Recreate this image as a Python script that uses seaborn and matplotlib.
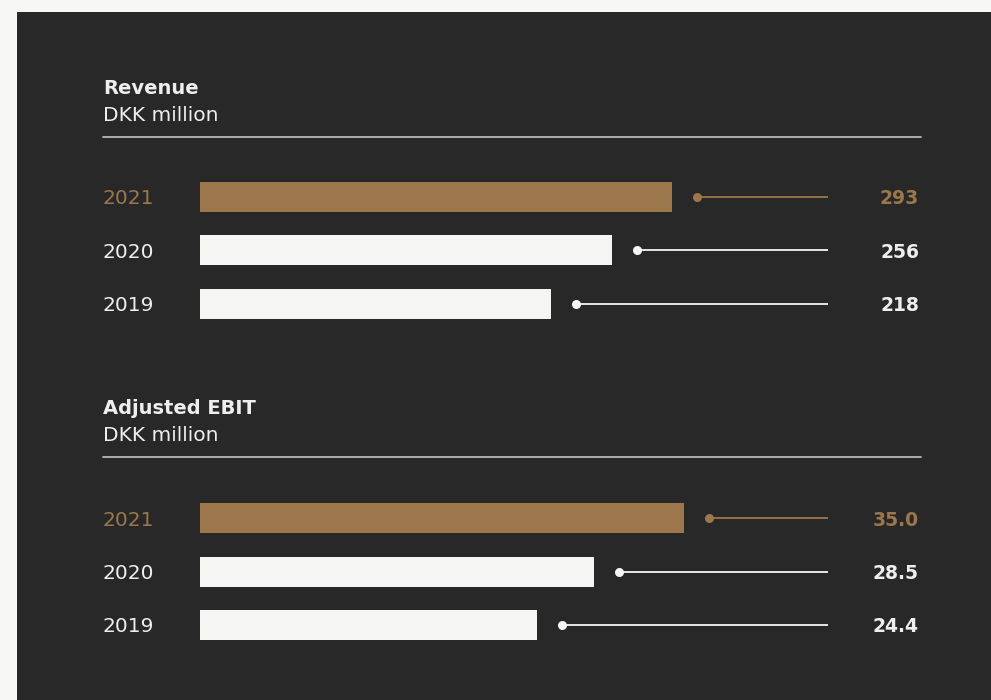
import matplotlib
matplotlib.use("Agg")
import matplotlib.pyplot as plt
import matplotlib.transforms as mtransforms
from matplotlib.patches import Rectangle
from matplotlib.lines import Line2D
import seaborn as sns
import pandas as pd

# ---- data ----
years = ["2021", "2020", "2019"]
revenue = [293, 256, 218]
ebit = [35.0, 28.5, 24.4]
revenue_labels = ["293", "256", "218"]
ebit_labels = ["35.0", "28.5", "24.4"]
titles = ["Revenue", "Adjusted EBIT"]
units = ["DKK million", "DKK million"]

# ---- style ----
sns.set_style("white")
plt.rcParams["font.family"] = ["DejaVu Sans"]

W, H = 991, 700
BG_OUT = "#f7f7f5"
PANEL = "#282828"
GOLD = "#9c774b"
WHITE = "#f5f5f3"
TXT = "#eeeeee"
RULE = "#b8b8b8"

def fx(x):
    return x / W

def fy(y):
    return 1 - y / H

fig = plt.figure(figsize=(W / 100, H / 100), dpi=100, facecolor=BG_OUT)
fig.patches.append(Rectangle((fx(17), 0), 1 - fx(17), fy(12), transform=fig.transFigure,
                             facecolor=PANEL, edgecolor="none", zorder=-10))

AX_L, AX_R = 200, 921
AX_W = AX_R - AX_L
ROW = 53.5

sections = [
    dict(title=titles[0], unit=units[0], vals=revenue, labels=revenue_labels,
         title_y=94.5, unit_y=121, rule_y=137, first_center=197, max_px=472),
    dict(title=titles[1], unit=units[1], vals=ebit, labels=ebit_labels,
         title_y=414, unit_y=441, rule_y=457, first_center=518, max_px=484),
]

for s in sections:
    fig.text(fx(103), fy(s["title_y"]), s["title"], color=TXT, fontsize=14,
             fontweight="bold", ha="left", va="baseline")
    fig.text(fx(103), fy(s["unit_y"]), s["unit"], color=TXT, fontsize=14.5,
             ha="left", va="baseline")
    fig.lines.append(Line2D([fx(103), fx(921)], [fy(s["rule_y"])] * 2,
                            transform=fig.transFigure, color=RULE, lw=1.3))

    top = s["first_center"] - ROW / 2
    height = 3 * ROW
    ax = fig.add_axes([fx(AX_L), fy(top + height), AX_W / W, height / H])
    ax.set_facecolor("none")
    ax.set_zorder(1)

    df = pd.DataFrame({"year": years, "value": s["vals"]})
    palette = {y: (GOLD if i == 0 else WHITE) for i, y in enumerate(years)}
    sns.barplot(data=df, y="year", x="value", hue="year", palette=palette,
                orient="h", width=30 / ROW, ax=ax, legend=False,
                saturation=1, linewidth=0, errorbar=None)

    vmax = max(s["vals"])
    xmax = vmax * AX_W / s["max_px"]
    ax.set_xlim(0, xmax)
    ax.set_ylim(2.5, -0.5)
    ppu = AX_W / xmax
    line_end = (828 - AX_L) / ppu
    blend = mtransforms.blended_transform_factory(ax.transAxes, ax.transData)

    for i, (yr, v, lab) in enumerate(zip(years, s["vals"], s["labels"])):
        col = GOLD if i == 0 else TXT
        lcol = GOLD if i == 0 else WHITE
        dot_x = v + 25 / ppu
        ax.plot([dot_x, line_end], [i, i], color=lcol, lw=1.3, solid_capstyle="butt",
                clip_on=False)
        ax.plot([dot_x], [i], marker="o", ms=6.5, color=lcol, mec="none", clip_on=False)
        ax.text((103 - AX_L) / AX_W, i, yr, transform=blend, color=col, fontsize=14.5,
                ha="left", va="center_baseline")
        ax.text((919 - AX_L) / AX_W, i, lab, transform=blend, color=col, fontsize=13.5,
                fontweight="bold", ha="right", va="center_baseline")

    ax.axis("off")

fig.savefig("out.png", dpi=100, facecolor=BG_OUT)
